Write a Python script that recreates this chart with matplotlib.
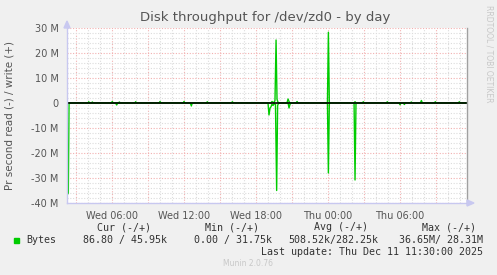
import matplotlib
matplotlib.use("Agg")
import matplotlib.pyplot as plt
import numpy as np

# hours since Wed 00:00, values in MB/s
write_hours = [2.25, 4.0, 4.06, 4.14, 4.3, 4.36, 4.44, 5.95, 6.02, 6.1, 6.55, 6.61, 6.69,
               7.9, 7.97, 8.05, 9.93, 10.0, 10.08, 11.93, 12.0, 12.08, 13.87, 13.94, 14.02,
               15.95, 16.03, 16.11, 19.25, 19.33, 19.5, 19.58, 19.67, 19.75, 19.83, 19.92,
               20.58, 20.67, 20.75, 20.83, 21.34, 21.42, 21.5, 23.95, 24.03, 24.11,
               26.17, 26.25, 26.33, 26.86, 26.94, 27.02, 28.86, 28.94, 29.02,
               30.86, 30.94, 31.02, 31.7, 31.78, 31.86, 32.86, 32.94, 33.02,
               34.86, 34.94, 35.02, 35.58]
write_mb = [0.05, 0.05, 0.5, 0.05, 0.05, 0.4, 0.05, 0.05, 0.6, 0.05, 0.05, 0.4, 0.05,
            0.05, 0.5, 0.05, 0.05, 0.6, 0.05, 0.05, 0.6, 0.05, 0.05, 0.5, 0.05,
            0.05, 0.5, 0.05, 0.05, 0.6, 0.1, 1.0, 25.2, 1.5, 0.3, 0.05,
            0.05, 1.6, 0.6, 0.05, 0.05, 0.6, 0.05, 0.05, 28.3, 0.05,
            0.05, 0.5, 0.05, 0.05, 0.5, 0.05, 0.05, 0.5, 0.05,
            0.05, 0.4, 0.05, 0.05, 1.0, 0.05, 0.05, 0.5, 0.05,
            0.05, 0.5, 0.05, 0.05]

read_hours = [2.28, 2.36, 2.42, 6.3, 6.39, 6.47, 12.53, 12.61, 12.69,
              19.0, 19.08, 19.17, 19.25, 19.33, 19.42, 19.5, 19.62, 19.72, 19.8, 19.88,
              20.67, 20.75, 20.83, 20.92, 23.95, 24.03, 24.11, 26.17, 26.25, 26.33,
              29.92, 30.0, 30.08, 30.28, 30.36, 30.44, 35.58]
read_mb = [36.65, 36.0, 0.0, 0.0, 0.8, 0.0, 0.0, 1.2, 0.0,
           0.0, 4.8, 2.0, 1.5, 0.5, 1.0, 0.3, 0.5, 35.0, 1.0, 0.0,
           0.0, 2.0, 0.5, 0.0, 0.0, 28.0, 0.0, 0.0, 30.8, 0.0,
           0.0, 0.7, 0.0, 0.0, 0.6, 0.0, 0.0]

tick_hours = [6, 12, 18, 24, 30]
tick_labels = ["Wed 06:00", "Wed 12:00", "Wed 18:00", "Thu 00:00", "Thu 06:00"]
ytick_vals = [30, 20, 10, 0, -10, -20, -30, -40]
ytick_labels = ["30 M", "20 M", "10 M", "0", "-10 M", "-20 M", "-30 M", "-40 M"]

W, H = 497, 275
fig = plt.figure(figsize=(W / 100, H / 100), dpi=100, facecolor="#F0F0F0")
x0, x1, y0, y1 = 67, 467, 28, 203
ax = fig.add_axes([x0 / W, 1 - y1 / H, (x1 - x0) / W, (y1 - y0) / H])
ax.set_facecolor("white")
xmin, xmax = 2.25, 35.58
ax.set_xlim(xmin, xmax)
ax.set_ylim(-40, 30)

# grid
for h in np.arange(3, 36):
    col = "#F2B0B0" if h % 3 == 0 else "#DCDCDC"
    ax.axvline(h, color=col, lw=0.8, ls=(0, (1, 1.5)), zorder=1)
for v in np.arange(-40, 31, 2):
    col = "#F2B0B0" if v % 10 == 0 else "#DCDCDC"
    ax.axhline(v, color=col, lw=0.8, ls=(0, (1, 1.5)), zorder=1)

ax.plot(write_hours, write_mb, color="#00CC00", lw=1, zorder=3)
ax.plot(read_hours, [-v for v in read_mb], color="#00CC00", lw=1, zorder=3)
ax.axhline(0, color="black", lw=1.2, zorder=4)

for s in ax.spines.values():
    s.set_visible(False)
ax.set_xticks(tick_hours)
ax.set_xticklabels(tick_labels)
ax.set_yticks(ytick_vals)
ax.set_yticklabels(ytick_labels)
ax.tick_params(length=0, labelsize=7, colors="#555555", pad=6)

# axes lines with arrows
ax.plot([xmin, xmin], [-40, 30], color="#C8C8F0", lw=1, clip_on=False, zorder=5)
ax.plot([xmin, xmax], [-40, -40], color="#C8C8F0", lw=1, clip_on=False, zorder=5)
ax.plot([xmax, xmax], [-40, 30], color="#A0A0A0", lw=1, clip_on=False, zorder=5)
fig.patches.append(plt.Polygon([[64 / W, 1 - 28 / H], [70 / W, 1 - 28 / H], [67 / W, 1 - 21 / H]],
                               closed=True, transform=fig.transFigure, color="#C8C8F0"))
fig.patches.append(plt.Polygon([[467 / W, 1 - 200 / H], [467 / W, 1 - 206 / H], [474 / W, 1 - 203 / H]],
                               closed=True, transform=fig.transFigure, color="#C8C8F0"))

fig.text(265 / W, 1 - 17 / H, "Disk throughput for /dev/zd0 - by day", ha="center", va="center",
         fontsize=9.5, color="#555555")
fig.text(10 / W, 1 - 115 / H, "Pr second read (-) / write (+)", rotation=90, ha="center", va="center",
         fontsize=7.5, color="#555555")
fig.text(489 / W, 1 - 54 / H, "RRDTOOL / TOBI OETIKER", rotation=270, ha="center", va="center",
         fontsize=5.5, color="#C8C8C8")

mono = dict(family="DejaVu Sans Mono", fontsize=7.2, color="#333333", va="center")
heads = [("Cur (-/+)", 151), ("Min (-/+)", 259), ("Avg (-/+)", 368), ("Max (-/+)", 476)]
for t, xr in heads:
    fig.text(xr / W, 1 - 227 / H, t, ha="right", **mono)
vals = [("86.80 / 45.95k", 167), ("0.00 / 31.75k", 272), ("508.52k/282.25k", 378), ("36.65M/ 28.31M", 483)]
for t, xr in vals:
    fig.text(xr / W, 1 - 240 / H, t, ha="right", **mono)
fig.text(26 / W, 1 - 240 / H, "Bytes", ha="left", **mono)
fig.patches.append(plt.Rectangle((14 / W, 1 - 243 / H), 5 / W, 5 / H, transform=fig.transFigure,
                                 color="#00CC00"))
fig.text(483 / W, 1 - 252 / H, "Last update: Thu Dec 11 11:30:00 2025", ha="right", **mono)
fig.text(248 / W, 1 - 264 / H, "Munin 2.0.76", ha="center", va="center", fontsize=5.5, color="#C8C8C8")

fig.savefig("out.png", dpi=100, facecolor=fig.get_facecolor())
